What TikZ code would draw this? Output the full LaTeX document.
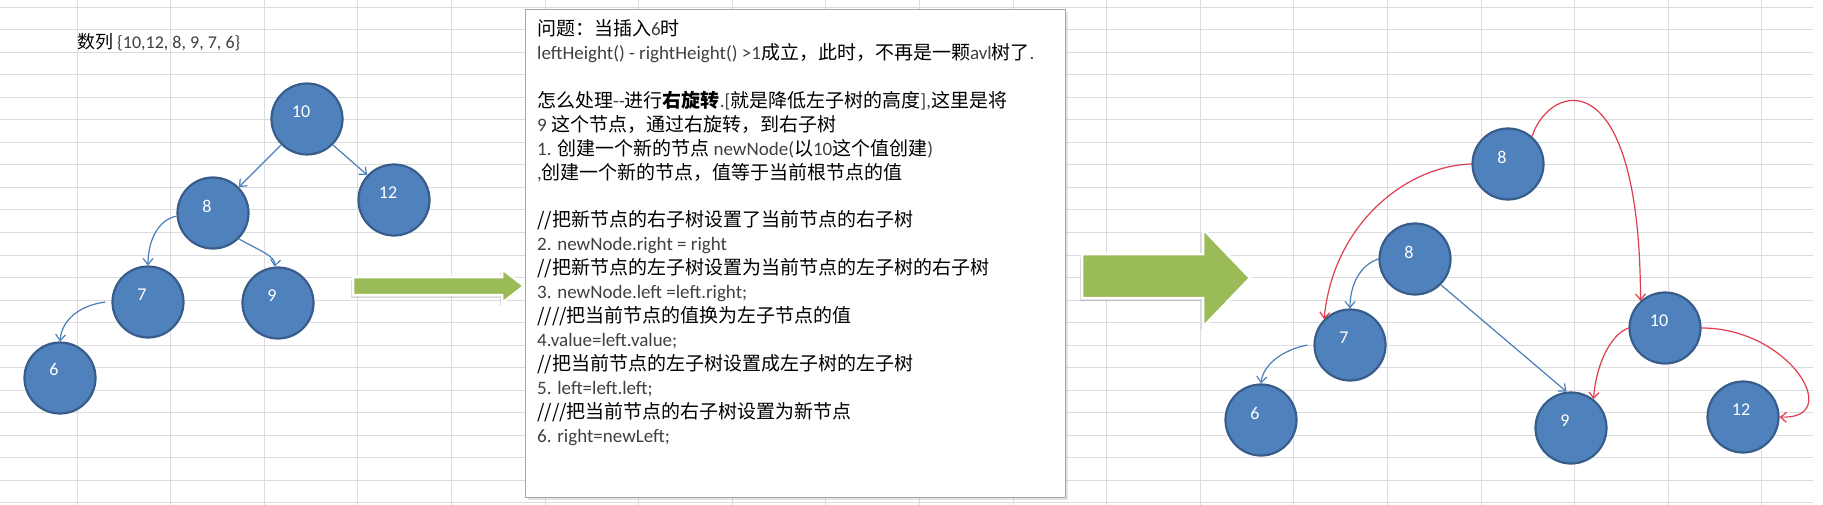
\documentclass[tikz,border=0pt]{standalone}
\usepackage{fontspec}
\setmainfont{Carlito}
\newfontfamily\zhfont{Noto Sans CJK SC}
\usetikzlibrary{arrows.meta, shadows}

\definecolor{gridgray}{RGB}{218,220,224}
\definecolor{ballfill}{RGB}{79,129,189}
\definecolor{balledge}{RGB}{56,93,138}
\definecolor{linkblue}{RGB}{74,126,187}
\definecolor{linkred}{RGB}{222,62,78}
\definecolor{arrowgreen}{RGB}{155,187,89}
\definecolor{textgray}{RGB}{64,64,64}

\newcommand{\en}[1]{{\rmfamily\color{textgray}#1}}

\begin{document}
\begin{tikzpicture}[
  x=1pt, y=-1pt,
  ball/.style={circle, draw=balledge, line width=2.2pt, fill=ballfill, minimum size=71pt, inner sep=0pt},
  num/.style={text=white, font=\fontsize{18}{18}\selectfont, xshift=-6pt, yshift=7pt},
  bluelink/.style={draw=linkblue, line width=1.2pt, -{Straight Barb[length=6pt, width=10pt]}},
  redlink/.style={draw=linkred, line width=1.2pt, -{Straight Barb[length=6pt, width=10pt]}},
  gridline/.style={draw=gridgray, line width=1pt},
  blockarrow/.style={fill=arrowgreen, draw=white, line width=2.5pt, line join=miter,
    drop shadow={shadow xshift=-2pt, shadow yshift=-3pt, opacity=0.3}},
  notebox/.style={draw=gray!70, line width=1.2pt, fill=white, anchor=north west,
    minimum width=540pt, minimum height=488pt, inner sep=0pt,
    drop shadow={shadow xshift=2pt, shadow yshift=-2pt, opacity=0.2}},
  notes/.style={align=left, inner sep=0pt, anchor=base west, font=\zhfont\fontsize{19}{23.9}\selectfont},
  caption/.style={inner sep=0pt, anchor=base west, font=\zhfont\fontsize{18}{18}\selectfont}
]
  % sheet grid
  \fill[white] (0,0) rectangle (1823,505);
  \useasboundingbox (0,0) rectangle (1823,505);
  \foreach \k in {0,...,22}
    \draw[gridline] (0,7.5+22.5*\k) -- (1813,7.5+22.5*\k);
  \foreach \k in {0,...,18}
    \draw[gridline] (77+93.6*\k,0) -- (77+93.6*\k,505);

  \node[caption] (seq) at (77,49) {数列 \en{\{10,12, 8, 9, 7, 6\}}};

  % tree before rotation
  \node[ball, label={[num]center:10}] (pre10) at (307,119) {};
  \node[ball, label={[num]center:12}] (pre12) at (394,200) {};
  \node[ball, label={[num]center:8}] (pre8) at (213,213) {};
  \node[ball, label={[num]center:7}] (pre7) at (148,302) {};
  \node[ball, label={[num]center:9}] (pre9) at (278,303) {};
  \node[ball, label={[num,yshift=2pt]center:6}] (pre6) at (60,378) {};

  \draw[bluelink] (pre10.225) -- (pre8.45);
  \draw[bluelink] (pre10.-45) -- (pre12.137);
  \draw[bluelink] (pre8.185) .. controls (160,219) and (148,238) .. (pre7.north);
  \draw[bluelink] (pre8.-45) .. controls (258,250) and (276,256) .. (pre9.95);
  \draw[bluelink] ([xshift=-6pt]pre7.west) .. controls (82,305) and (62,318) .. (pre6.north);

  % green arrows
  \path[blockarrow] (353,277) -- (502,277) -- (502,269) -- (524,286) -- (502,303) -- (502,295) -- (353,295) -- cycle;
  \path[blockarrow] (1082,254) -- (1203,254) -- (1203,229) -- (1250,278) -- (1203,327) -- (1203,298) -- (1082,298) -- cycle;

  % explanation (base = last line)
  \node[notebox] (box) at (525,9) {};
  \node[notes] (steps) at ([shift={(12,433)}]box.north west) {%
    问题：当插入\en{6}时\\
    \en{leftHeight() - rightHeight() >1}成立，此时，不再是一颗\en{avl}树了\en{.}\\[23.9pt]
    怎么处理\en{-{}-}进行\textbf{右旋转}\en{.[}就是降低左子树的高度\en{],}这里是将\\
    \en{9 }这个节点，通过右旋转，到右子树\\
    \en{1. }创建一个新的节点 \en{newNode(}以\en{10}这个值创建\en{)}\\
    \en{,}创建一个新的节点，值等于当前根节点的值\\[23.9pt]
    //把新节点的右子树设置了当前节点的右子树\\
    \en{2. newNode.right = right}\\
    //把新节点的左子树设置为当前节点的左子树的右子树\\
    \en{3. newNode.left =left.right;}\\
    ////把当前节点的值换为左子节点的值\\
    \en{4.value=left.value;}\\
    //把当前节点的左子树设置成左子树的左子树\\
    \en{5. left=left.left;}\\
    ////把当前节点的右子树设置为新节点\\
    \en{6. right=newLeft;}};

  % tree after rotation
  \node[ball, label={[num]center:8}] (root8) at (1508,164) {};
  \node[ball, label={[num]center:8}] (old8) at (1415,259) {};
  \node[ball, label={[num]center:7}] (post7) at (1350,345) {};
  \node[ball, label={[num]center:6}] (post6) at (1261,420) {};
  \node[ball, label={[num]center:9}] (post9) at (1571,428) {};
  \node[ball, label={[num]center:10}] (new10) at (1665,328) {};
  \node[ball, label={[num,xshift=4pt]center:12}] (post12) at (1743,417) {};

  \draw[bluelink] (old8.west) .. controls (1360,265) and (1350,285) .. (post7.north);
  \draw[bluelink] (old8.-45) -- (post9.97);
  \draw[bluelink] ([xshift=-6pt]post7.west) .. controls (1282,350) and (1263,365) .. (post6.north);

  \draw[redlink] (root8.180) .. controls (1405,166) and (1333,225) .. (post7.135);
  \draw[redlink] (root8.49) .. controls (1550,82) and (1640,58) .. (new10.132);
  \draw[redlink] (new10.west) .. controls (1610,335) and (1596,365) .. (post9.52);
  \draw[redlink] (new10.east) .. controls (1790,328) and (1845,420) .. (post12.east);
\end{tikzpicture}
\end{document}
